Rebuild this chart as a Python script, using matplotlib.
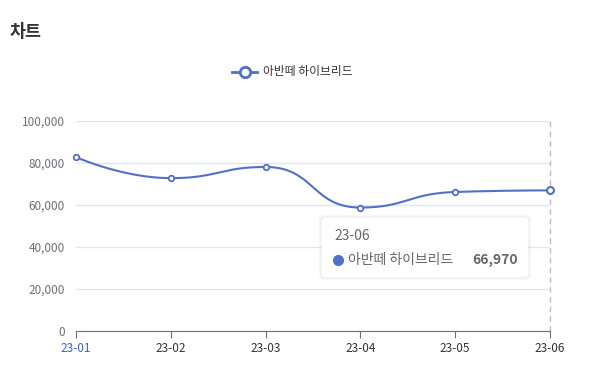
import numpy as np
import matplotlib
matplotlib.use("Agg")
import matplotlib.pyplot as plt
from matplotlib.patches import FancyBboxPatch
from matplotlib.ticker import FuncFormatter

plt.rcParams["font.family"] = ["Noto Sans CJK KR", "DejaVu Sans"]

# ── data ──────────────────────────────────────────────────────────────────────
months = ["23-01", "23-02", "23-03", "23-04", "23-05", "23-06"]
sales = [82800, 72800, 78100, 58800, 66200, 66970]
series_name = "아반떼 하이브리드"
title = "차트"

LINE = "#5470C6"
AXIS = "#6E7079"
GRID = "#E0E6F1"

W, H, DPI = 596, 377, 100
fig = plt.figure(figsize=(W / DPI, H / DPI), dpi=DPI)
ax = fig.add_axes([76 / W, (H - 331) / H, 474 / W, 210 / H])

x = np.arange(len(months))
ax.set_xlim(0, len(months) - 1)
ax.set_ylim(0, 100000)


# ── smooth curve (echarts-like constrained bezier, in pixel space) ───────────
def smooth_path(xs, ys, smooth=0.5, n=40):
    pts = ax.transData.transform(np.column_stack([xs, ys]))
    k = len(pts)
    cin = [None] * k   # control point entering point i
    cout = [None] * k  # control point leaving point i
    cout[0] = pts[0].copy()
    cin[-1] = pts[-1].copy()
    for i in range(1, k - 1):
        p, prev, nxt = pts[i], pts[i - 1], pts[i + 1]
        v = nxt - prev
        lp = np.linalg.norm(p - prev)
        ln = np.linalg.norm(nxt - p)
        r = ln / (ln + lp)
        c_out = p + v * smooth * r
        c_out = np.minimum(c_out, np.maximum(nxt, p))
        c_out = np.maximum(c_out, np.minimum(nxt, p))
        c_in = p - (c_out - p) * lp / ln
        c_in = np.minimum(c_in, np.maximum(prev, p))
        c_in = np.maximum(c_in, np.minimum(prev, p))
        c_out = p + (p - c_in) * ln / lp
        cin[i], cout[i] = c_in, c_out
    t = np.linspace(0, 1, n)[:, None]
    segs = []
    for i in range(k - 1):
        p0, c1, c2, p1 = pts[i], cout[i], cin[i + 1], pts[i + 1]
        segs.append((1 - t) ** 3 * p0 + 3 * (1 - t) ** 2 * t * c1 + 3 * (1 - t) * t ** 2 * c2 + t ** 3 * p1)
    return ax.transData.inverted().transform(np.vstack(segs))


curve = smooth_path(x, sales)
ax.plot(curve[:, 0], curve[:, 1], color=LINE, lw=1.5, zorder=3, clip_on=False)
ax.plot(x[:-1], sales[:-1], "o", ms=4, mfc="white", mec=LINE, mew=1.3, zorder=4, clip_on=False)
ax.plot(x[-1:], sales[-1:], "o", ms=5, mfc="white", mec=LINE, mew=1.5, zorder=4, clip_on=False)

# axis pointer on hovered point
ax.axvline(x[-1], color="#B9BEC9", lw=1, ls=(0, (4, 3)), zorder=2, clip_on=False)

# ── axes styling ──────────────────────────────────────────────────────────────
ax.set_yticks(np.arange(0, 100001, 20000))
ax.yaxis.set_major_formatter(FuncFormatter(lambda v, _: f"{int(v):,}"))
ax.grid(axis="y", color=GRID, lw=1)
ax.set_axisbelow(True)
for side in ["top", "right", "left"]:
    ax.spines[side].set_visible(False)
ax.spines["bottom"].set_color(AXIS)
ax.tick_params(axis="y", length=0, pad=8, labelsize=8.5, labelcolor=AXIS)
ax.set_xticks(x)
ax.set_xticklabels(months)
ax.tick_params(axis="x", length=5, color=AXIS, pad=3, labelsize=8.5, labelcolor="#333333")
ax.get_xticklabels()[0].set_color("#3D5AFE")

# ── title & legend ────────────────────────────────────────────────────────────
fig.text(10 / W, 1 - 32 / H, title, fontsize=12.5, fontweight="bold", color="#333333", va="center")
ly = 1 - 72 / H
fig.add_artist(plt.Line2D([232 / W, 257 / W], [ly, ly], color=LINE, lw=2))
fig.add_artist(plt.Line2D([245 / W], [ly], marker="o", ms=7.5, mfc="white", mec=LINE, mew=2))
fig.text(263 / W, ly, series_name, fontsize=8.5, color="#333333", va="center")

# ── tooltip ───────────────────────────────────────────────────────────────────
bx, by, bw, bh = 322 / W, 1 - 277 / H, 206 / W, 59 / H
for off, a in [(3, 0.03), (1.5, 0.05)]:
    fig.add_artist(FancyBboxPatch((bx - off / W, by - off / H), bw + 2 * off / W, bh + 2 * off / H,
                                  boxstyle="round,pad=0,rounding_size=0.01", transform=fig.transFigure,
                                  fc="#000000", ec="none", alpha=a, zorder=9))
fig.add_artist(FancyBboxPatch((bx, by), bw, bh, boxstyle="round,pad=0,rounding_size=0.008",
                              transform=fig.transFigure, fc="white", ec="white", lw=0.8, zorder=10))
fig.text(334 / W, 1 - 236 / H, months[-1], fontsize=10, color="#666666", va="center", zorder=11)
fig.add_artist(plt.Line2D([338 / W], [1 - 260 / H], marker="o", ms=7, mfc=LINE, mec=LINE, zorder=11))
fig.text(348 / W, 1 - 260 / H, series_name, fontsize=10, color="#666666", va="center", zorder=11)
fig.text(518 / W, 1 - 260 / H, f"{sales[-1]:,}", fontsize=10, fontweight="bold", color="#666666",
         va="center", ha="right", zorder=11)

fig.savefig("out.png", dpi=DPI)
